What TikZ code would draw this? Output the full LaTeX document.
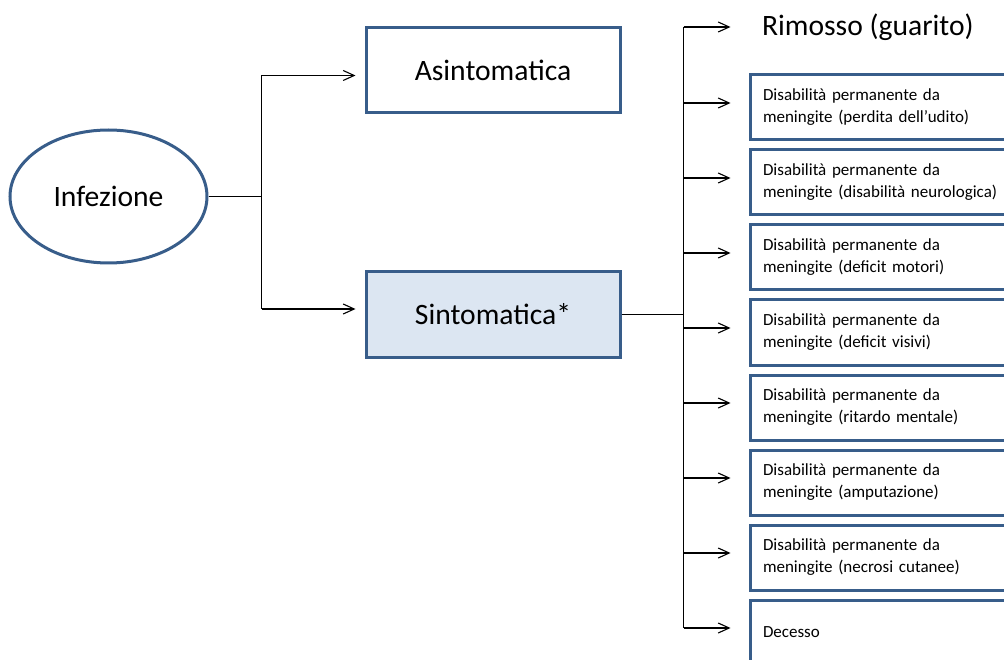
\documentclass[tikz,border=0pt]{standalone}
\usepackage{fontspec}
\setmainfont{Carlito}
\usepackage{tikz}
\usetikzlibrary{positioning,calc,arrows.meta,shapes.geometric}
\definecolor{boxblue}{HTML}{385D8A}
\definecolor{boxfill}{HTML}{DCE6F2}

\begin{document}
\begin{tikzpicture}[on grid,line width=1.1pt,
  >={Straight Barb[length=11pt,width=10pt]},
  bigtext/.style={font=\fontsize{29.6pt}{36pt}\selectfont},
  smalltext/.style={font=\fontsize{17pt}{22pt}\selectfont},
  infection/.style={ellipse,draw=boxblue,line width=3pt,minimum width=197pt,minimum height=133pt,inner sep=0pt,bigtext},
  state/.style={draw=boxblue,line width=3pt,fill=white,minimum width=254pt,minimum height=85pt,bigtext},
  outcome/.style={draw=boxblue,line width=3pt,fill=white,minimum width=300pt,minimum height=65pt,text width=274pt,align=left,inner xsep=13pt,smalltext}]
\useasboundingbox (0pt,0pt) rectangle (1004pt,-660pt);
\clip (0pt,0pt) rectangle (1004pt,-660pt);
  \node[infection] (inf) at (108.5pt,-196.5pt) {Infezione};
  \node[state] (asi) [above right=126pt and 384.5pt of inf] {Asintomatica};
  \node[state,fill=boxfill] (sin) [below=244pt of asi] {Sintomatica*};
  \node[outcome] (d1) [above right=207pt and 407pt of sin]
       {Disabilità permanente da\\meningite (perdita dell’udito)};
  \node[outcome] (d2) [below=75pt of d1]
       {Disabilità permanente da\\meningite (disabilità neurologica)};
  \node[outcome] (d3) [below=75pt of d2]
       {Disabilità permanente da\\meningite (deficit motori)};
  \node[outcome] (d4) [below=75pt of d3]
       {Disabilità permanente da\\meningite (deficit visivi)};
  \node[outcome] (d5) [below=75pt of d4]
       {Disabilità permanente da\\meningite (ritardo mentale)};
  \node[outcome] (d6) [below=75pt of d5]
       {Disabilità permanente da\\meningite (amputazione)};
  \node[outcome] (d7) [below=75pt of d6]
       {Disabilità permanente da\\meningite (necrosi cutanee)};
  \node[outcome] (dec) [below=75pt of d7] {Decesso};
  \node[bigtext,inner xsep=13pt,inner ysep=0pt] (rim) [above=80.5pt of d1.west,anchor=west] {Rimosso (guarito)};
  % left fork
  \coordinate (jt) at ($(asi.west)+(-103pt,-5pt)$);
  \coordinate (jb) at ($(sin.west)+(-103pt,5.5pt)$);
  \draw (inf.east) -- (inf.east -| jt);
  \draw (jt) -- (jb);
  \draw[->,shorten >=9pt] (jt) -- (jt -| asi.west);
  \draw[->,shorten >=9pt] (jb) -- (jb -| sin.west);
  % right fork
  \coordinate (kt) at ($(rim.west)+(-65pt,0pt)$);
  \coordinate (kb) at ($(dec.west)+(-65pt,4.5pt)$);
  \draw (sin.east) -- (sin.east -| kt);
  \draw (kt) -- (kb);
  \draw[->,shorten >=18pt] (kt) -- (rim.west);
  \foreach \n in {d1,d2,d3,d4,d5,d6,d7,dec}
    \draw[->,shorten >=18pt] ($(\n.west)+(-65pt,4.5pt)$) -- ($(\n.west)+(0pt,4.5pt)$);
\end{tikzpicture}
\end{document}
